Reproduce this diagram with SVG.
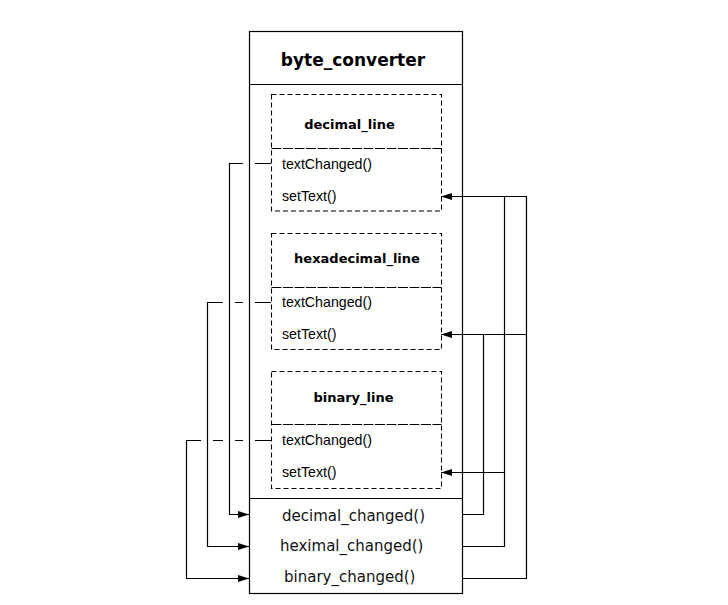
<svg xmlns="http://www.w3.org/2000/svg" width="728" height="605" viewBox="0 0 728 605">
<defs>
<style>
.box{fill:#fff;stroke:#000;stroke-width:1.2}
.dash{fill:none;stroke:#000;stroke-width:1.1;stroke-dasharray:5,3}
.sep{fill:none;stroke:#000;stroke-width:1.1;stroke-dasharray:10,1.5}
.ln{fill:none;stroke:#000;stroke-width:1.2}
.title{font-family:"DejaVu Sans",sans-serif;font-weight:bold;font-size:17px;fill:#000}
.sub{font-family:"DejaVu Sans",sans-serif;font-weight:bold;font-size:13px;fill:#000}
.m{font-family:"Liberation Sans",Arial,sans-serif;font-size:14.2px;fill:#000}
.slot{font-family:"DejaVu Sans",sans-serif;font-size:15px;fill:#111}
</style>
<marker id="arr" markerWidth="12" markerHeight="8" refX="11" refY="4" orient="auto" markerUnits="userSpaceOnUse">
<path d="M0,0.6 L11,4 L0,7.4 Z" fill="#000"/>
</marker>
</defs>
<rect width="728" height="605" fill="#fff"/>

<g id="byte_converter">
<rect class="box" x="249.5" y="31.5" width="213" height="562"/>
<line class="ln" x1="249.5" y1="84.5" x2="462.5" y2="84.5"/>
<line class="ln" x1="249.5" y1="498.5" x2="462.5" y2="498.5"/>
<text class="title" x="353" y="65.5" text-anchor="middle">byte_converter</text>
<text class="slot" x="282" y="520.5">decimal_changed()</text>
<text class="slot" x="280" y="550.5">heximal_changed()</text>
<text class="slot" x="284" y="582">binary_changed()</text>
</g>

<g id="decimal_line">
<rect class="dash" x="271.5" y="94.5" width="170" height="116.5"/>
<line class="sep" x1="271.5" y1="148.5" x2="441.5" y2="148.5"/>
<text class="sub" x="349.5" y="128.5" text-anchor="middle">decimal_line</text>
<text class="m" x="282" y="168.5">textChanged()</text>
<text class="m" x="282" y="200.5">setText()</text>
</g>

<g id="hexadecimal_line">
<rect class="dash" x="271.5" y="233.5" width="170" height="116"/>
<line class="sep" x1="271.5" y1="287.5" x2="441.5" y2="287.5"/>
<text class="sub" x="357" y="262.5" text-anchor="middle">hexadecimal_line</text>
<text class="m" x="282" y="307">textChanged()</text>
<text class="m" x="282" y="338.5">setText()</text>
</g>

<g id="binary_line">
<rect class="dash" x="271.5" y="371.5" width="170" height="117"/>
<line class="sep" x1="271.5" y1="424.5" x2="441.5" y2="424.5"/>
<text class="sub" x="353.5" y="401.5" text-anchor="middle">binary_line</text>
<text class="m" x="282" y="445">textChanged()</text>
<text class="m" x="282" y="477">setText()</text>
</g>

<g id="connectors">
<path class="ln" d="M271,163.5 H255 M243,163.5 H229.5 V514.5 H249" marker-end="url(#arr)"/>
<path class="ln" d="M271,302.5 H255 M243,302.5 H235 M223,302.5 H207.5 V546.5 H249" marker-end="url(#arr)"/>
<path class="ln" d="M271,440.5 H255 M243,440.5 H235 M223,440.5 H213 M201,440.5 H186.5 V578.5 H249" marker-end="url(#arr)"/>
<path class="ln" d="M462.5,514.5 H483.5 V334"/>
<path class="ln" d="M462.5,546.5 H504.5 V196"/>
<path class="ln" d="M462.5,578.5 H526.5 V196"/>
<path class="ln" d="M526.5,196.5 H441" marker-end="url(#arr)"/>
<path class="ln" d="M526.5,334.5 H441" marker-end="url(#arr)"/>
<path class="ln" d="M504.5,472.5 H441" marker-end="url(#arr)"/>
</g>
</svg>
